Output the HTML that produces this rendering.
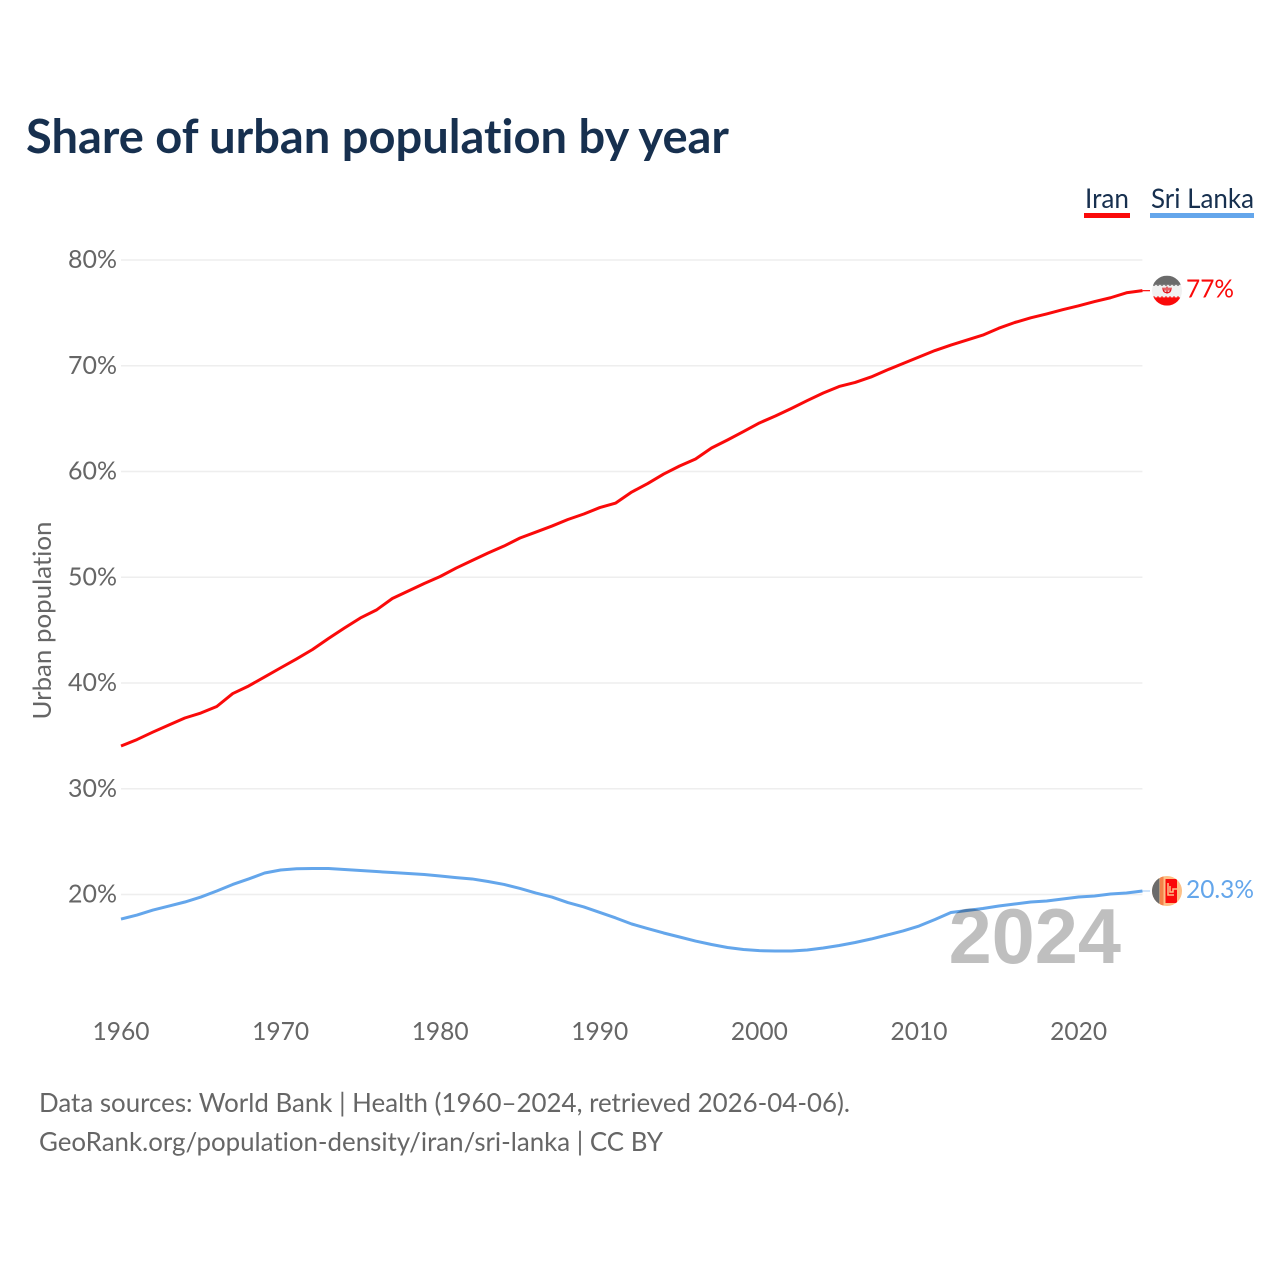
<!DOCTYPE html>
<html lang="en">
<head>
<meta charset="utf-8">
<title>Share of urban population by year</title>
<style>
html,body{margin:0;padding:0;background:#fff;width:1280px;height:1280px;overflow:hidden}
svg{display:block}
text{font-family:"Lato","Liberation Sans",sans-serif;font-variant-ligatures:none;font-feature-settings:"liga" 0,"clig" 0}
</style>
</head>
<body>
<svg id="chart" width="1280" height="1280" viewBox="0 0 1280 1280" xmlns="http://www.w3.org/2000/svg">
  <defs>
    <clipPath id="clip-iran"><circle cx="0" cy="0" r="15"/></clipPath>
    <clipPath id="clip-lanka"><circle cx="0" cy="0" r="15"/></clipPath>
  </defs>
  <text x="26" y="153" font-size="46.5" font-weight="700" fill="#17304f" textLength="703" lengthAdjust="spacingAndGlyphs">Share of urban population by year</text>
  <g id="legend">
    <g>
      <text x="1085" y="208" font-size="27" fill="#17304f" textLength="44" lengthAdjust="spacingAndGlyphs">Iran</text>
      <rect x="1084" y="213" width="46" height="5" fill="#fa0a0a"/>
    </g>
    <g>
      <text x="1151" y="208" font-size="27" fill="#17304f" textLength="103" lengthAdjust="spacingAndGlyphs">Sri Lanka</text>
      <rect x="1150" y="213" width="104" height="5" fill="#64a6eb"/>
    </g>
  </g>
  <g id="grid"></g>
  <g id="y-ticks"></g>
  <g id="x-ticks"></g>
  <text transform="translate(51,620.5) rotate(-90)" text-anchor="middle" font-size="25.5" fill="#666" textLength="198" lengthAdjust="spacingAndGlyphs">Urban population</text>
  <g id="series"></g>
  <text x="1121" y="963" text-anchor="end" font-size="77.5" font-weight="700" fill="#000" fill-opacity="0.25" style="font-family:'Liberation Sans',sans-serif">2024</text>
  <g id="end-markers"></g>
  <text x="39" y="1112" font-size="26" fill="#666" textLength="811" lengthAdjust="spacingAndGlyphs">Data sources: World Bank | Health (1960–2024, retrieved 2026-04-06).</text>
  <text x="39" y="1151" font-size="26" fill="#666" textLength="624" lengthAdjust="spacingAndGlyphs">GeoRank.org/population-density/iran/sri-lanka | CC BY</text>
</svg>
<script>
const startYear = 1960;
const iranValues = [34.04,34.65,35.36,36.03,36.69,37.16,37.78,39.0,39.72,40.57,41.43,42.28,43.17,44.21,45.2,46.15,46.9,47.99,48.7,49.41,50.07,50.87,51.58,52.29,52.95,53.71,54.27,54.84,55.46,55.98,56.59,57.02,58.06,58.86,59.76,60.52,61.18,62.22,62.98,63.78,64.59,65.25,65.96,66.71,67.42,68.04,68.42,68.94,69.6,70.21,70.83,71.44,71.96,72.43,72.9,73.55,74.09,74.53,74.9,75.3,75.67,76.07,76.43,76.9,77.1];
const lankaValues = [17.68,18.06,18.53,18.91,19.29,19.76,20.33,20.95,21.47,22.03,22.32,22.43,22.46,22.46,22.36,22.27,22.17,22.08,21.99,21.89,21.75,21.6,21.47,21.23,20.95,20.57,20.14,19.76,19.24,18.82,18.3,17.78,17.21,16.78,16.36,15.98,15.6,15.27,14.99,14.8,14.69,14.66,14.66,14.75,14.94,15.18,15.46,15.79,16.17,16.55,17.02,17.64,18.3,18.49,18.68,18.91,19.1,19.29,19.39,19.57,19.76,19.86,20.05,20.14,20.33];
const yTicks = [20,30,40,50,60,70,80];
const xTicks = [1960,1970,1980,1990,2000,2010,2020];
const iranEndLabel = '77%';
const lankaEndLabel = '20.3%';

const NS = 'http://www.w3.org/2000/svg';
const xScale = year => 121 + (year - 1960) * 15.96;
const yScale = value => 894.5 - (value - 20) * 10.575;
function make(tag, attrs, parent){
  const el = document.createElementNS(NS, tag);
  for (const k in attrs) el.setAttribute(k, attrs[k]);
  parent.appendChild(el);
  return el;
}
const grid = document.getElementById('grid');
const yG = document.getElementById('y-ticks');
const xG = document.getElementById('x-ticks');
const seriesG = document.getElementById('series');
const markers = document.getElementById('end-markers');

yTicks.forEach(t => {
  const line = make('line', {x1:xScale(1960), x2:xScale(2024), y1:yScale(t), y2:yScale(t), stroke:'#eeeeee', 'stroke-width':1.6}, grid);
  
  
  const label = make('text', {x:117, y:yScale(t)+8, 'text-anchor':'end', 'font-size':25, fill:'#666', textLength:49, lengthAdjust:'spacingAndGlyphs'}, yG);
  label.textContent = t + '%';
  
  
});
xTicks.forEach(t => {
  const label = make('text', {x:xScale(t), y:1040, 'text-anchor':'middle', 'font-size':25, fill:'#666', textLength:57, lengthAdjust:'spacingAndGlyphs'}, xG);
  label.textContent = t;
  
  
});
function pathFor(values){
  return values.map((v,i) => (i ? 'L' : 'M') + xScale(startYear+i).toFixed(2) + ' ' + yScale(v).toFixed(2)).join('');
}
const iranLine = make('path', {d:pathFor(iranValues), fill:'none', stroke:'#fa0a0a', 'stroke-width':3, 'stroke-linejoin':'round'}, seriesG);


const lankaLine = make('path', {d:pathFor(lankaValues), fill:'none', stroke:'#64a6eb', 'stroke-width':3, 'stroke-linejoin':'round'}, seriesG);



const lastYear = startYear + iranValues.length - 1;
const cx = 1167;
const iranY = yScale(iranValues[iranValues.length-1]);
const lankaY = yScale(lankaValues[lankaValues.length-1]);

const c1 = make('line', {x1:xScale(lastYear), x2:cx-17, y1:iranY, y2:iranY, stroke:'#fa0a0a', 'stroke-width':1.2}, markers);


const c2 = make('line', {x1:xScale(lastYear), x2:cx-17, y1:lankaY, y2:lankaY, stroke:'#64a6eb', 'stroke-width':1, 'stroke-opacity':0.6}, markers);



const fi = make('g', {transform:`translate(${cx},${iranY})`, 'clip-path':'url(#clip-iran)'}, markers);


make('rect', {x:-15,y:-15,width:30,height:30,fill:'#f1f1f1'}, fi);
make('rect', {x:-15,y:-15,width:30,height:9,fill:'#6b6b6b'}, fi);
make('rect', {x:-15,y:7,width:30,height:8,fill:'#fa0a0a'}, fi);
make('path', {d:'M-15 -6l2 1.5l2-1.5l2 1.5l2-1.5l2 1.5l2-1.5l2 1.5l2-1.5l2 1.5l2-1.5l2 1.5l2-1.5l2 1.5l2-1.5z',fill:'#6b6b6b'}, fi);
make('path', {d:'M-15 7l2-1.5l2 1.5l2-1.5l2 1.5l2-1.5l2 1.5l2-1.5l2 1.5l2-1.5l2 1.5l2-1.5l2 1.5l2-1.5l2 1.5z',fill:'#fa0a0a'}, fi);
make('path', {d:'M-4 -3c0 4.5 2 5 4 5s4-.5 4-5M0 -4v7M-2 -3v3M2 -3v3',fill:'none',stroke:'#e0141c','stroke-width':1.3}, fi);

const fl = make('g', {transform:`translate(${cx},${lankaY})`, 'clip-path':'url(#clip-lanka)'}, markers);


make('rect', {x:-15,y:-15,width:30,height:30,fill:'#fdc087'}, fl);
make('rect', {x:-15,y:-15,width:7.5,height:30,fill:'#6b6b6b'}, fl);
make('rect', {x:-7,y:-15,width:3.5,height:30,fill:'#f4824a'}, fl);
make('rect', {x:-1.5,y:-12,width:11.5,height:24,fill:'#fa0a0a'}, fl);
make('path', {d:'M1 -8v12h6M3 -5v6h3v-3h5',fill:'none',stroke:'#fdc087','stroke-width':1.5}, fl);

const v1 = make('text', {x:1186, y:iranY+7, 'font-size':25.5, fill:'#fa0a0a', textLength:48, lengthAdjust:'spacingAndGlyphs'}, markers);
v1.textContent = iranEndLabel;


const v2 = make('text', {x:1186, y:lankaY+7, 'font-size':25.5, fill:'#64a6eb', textLength:68, lengthAdjust:'spacingAndGlyphs'}, markers);
v2.textContent = lankaEndLabel;


</script>
</body>
</html>
